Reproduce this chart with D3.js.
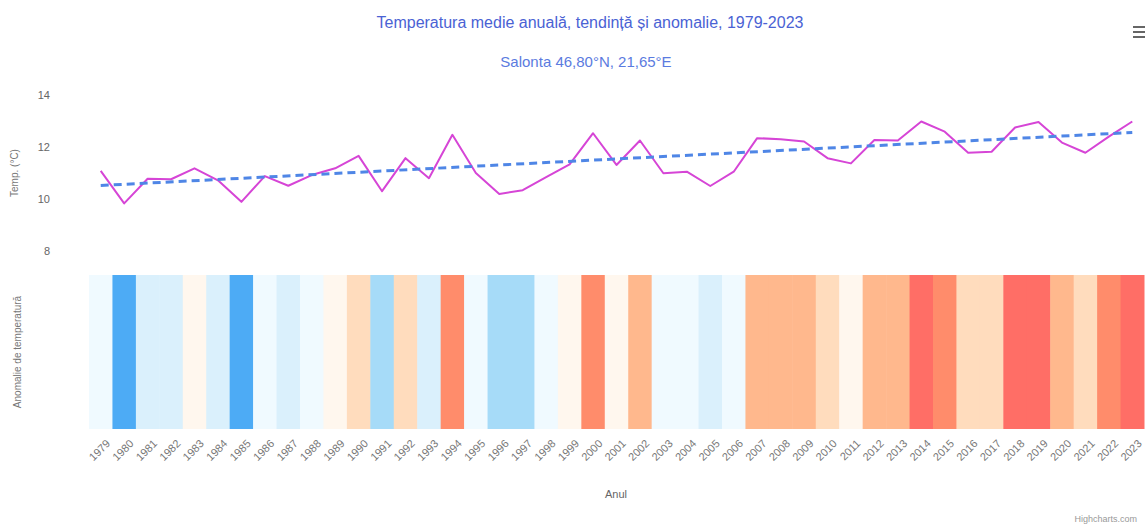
<!DOCTYPE html>
<html>
<head>
<meta charset="utf-8">
<script src="https://cdn.jsdelivr.net/npm/d3@7"></script>
<style>
  body { margin: 0; background: #fff; }
  svg { font-family: "Liberation Sans", Arial, sans-serif; }
</style>
</head>
<body>
<svg id="chart" width="1145" height="529"></svg>
<script>
// ani 1979-2023
const years = d3.range(1979, 2024);

// temperatura medie anuala (°C)
const temps = [
  11.08, 9.83, 10.78, 10.76, 11.18, 10.72, 9.89, 10.88, 10.51, 10.92,
  11.18, 11.66, 10.30, 11.57, 10.80, 12.47, 11.00, 10.19, 10.34, 10.84,
  11.33, 12.53, 11.31, 12.25, 10.99, 11.05, 10.50, 11.05, 12.34, 12.30,
  12.21, 11.57, 11.37, 12.27, 12.25, 12.98, 12.59, 11.78, 11.82, 12.75,
  12.96, 12.17, 11.78, 12.40, 12.98
];

// tendinta liniara (capete)
const trendYears = [1979, 2023];
const trendVals = [10.52, 12.56];

const yTicks = [8, 10, 12, 14];

const svg = d3.select("#chart");

const x = d3.scaleBand()
  .domain(years)
  .range([89, 1144])
  .paddingInner(0)
  .paddingOuter(0);

const y = d3.scaleLinear()
  .domain([8, 14])
  .range([251, 95]);

// culori anomalie
const stripeColor = d3.scaleThreshold()
  .domain([10.0, 10.4, 10.81, 11.12, 11.45, 12.0, 12.37, 12.7])
  .range(["#4dabf5", "#a6dbf8", "#daf0fc", "#f0faff", "#fff7ee",
          "#ffdcbd", "#ffb88d", "#ff8c6b", "#ff6e66"]);

// titlu
svg.append("text")
  .attr("x", 590).attr("y", 28)
  .attr("text-anchor", "middle")
  .attr("font-size", 16)
  .attr("fill", "#4a62d4")
  .text("Temperatura medie anuală, tendință și anomalie, 1979-2023");

svg.append("text")
  .attr("x", 586).attr("y", 67)
  .attr("text-anchor", "middle")
  .attr("font-size", 15)
  .attr("fill", "#5b7be0")
  .text("Salonta 46,80°N, 21,65°E");

// meniu
const menu = svg.append("g").attr("stroke", "#666").attr("stroke-width", 2);
[27, 32, 37].forEach(v => {
  menu.append("line").attr("x1", 1133).attr("x2", 1145).attr("y1", v).attr("y2", v);
});

// benzi anomalie
svg.append("g")
  .selectAll("rect")
  .data(years)
  .enter().append("rect")
  .attr("x", d => x(d))
  .attr("y", 275)
  .attr("width", x.bandwidth() + 0.5)
  .attr("height", 154)
  .attr("fill", (d, i) => stripeColor(temps[i]));

// axa y temperatura
const yAxis = svg.append("g")
  .attr("transform", "translate(89,0)")
  .call(d3.axisLeft(y).tickValues(yTicks).tickFormat(d3.format("d")).tickSize(0).tickPadding(39));
yAxis.select(".domain").remove();
yAxis.selectAll("text").attr("font-size", 11).attr("fill", "#666");

svg.append("text")
  .attr("transform", "translate(18,173) rotate(-90)")
  .attr("text-anchor", "middle")
  .attr("font-size", 10)
  .attr("fill", "#777")
  .text("Temp. (°C)");

svg.append("text")
  .attr("transform", "translate(21,352) rotate(-90)")
  .attr("text-anchor", "middle")
  .attr("font-size", 10)
  .attr("fill", "#777")
  .text("Anomalie de temperatură");

// axa x
const xAxis = svg.append("g")
  .attr("transform", "translate(0,431)")
  .call(d3.axisBottom(x).tickSize(0).tickPadding(10));
xAxis.select(".domain").remove();
xAxis.selectAll("text")
  .attr("font-size", 11)
  .attr("fill", "#777")
  .attr("text-anchor", "end")
  .attr("dx", "-0.2em")
  .attr("dy", "0.6em")
  .attr("transform", "rotate(-45)");

svg.append("text")
  .attr("x", 616).attr("y", 498)
  .attr("text-anchor", "middle")
  .attr("font-size", 11)
  .attr("fill", "#666")
  .text("Anul");

// linie temperatura
const line = d3.line()
  .x((d, i) => x(years[i]) + x.bandwidth() / 2)
  .y(d => y(d));

svg.append("path")
  .datum(temps)
  .attr("fill", "none")
  .attr("stroke", "#d645d6")
  .attr("stroke-width", 2)
  .attr("stroke-linejoin", "round")
  .attr("d", line);

// tendinta
svg.append("path")
  .datum(trendVals)
  .attr("fill", "none")
  .attr("stroke", "#4f86e6")
  .attr("stroke-width", 3)
  .attr("stroke-dasharray", "8,5")
  .attr("d", d3.line()
    .x((d, i) => x(trendYears[i]) + x.bandwidth() / 2)
    .y(d => y(d)));

// credit
svg.append("text")
  .attr("x", 1137).attr("y", 522)
  .attr("text-anchor", "end")
  .attr("font-size", 9)
  .attr("fill", "#999")
  .text("Highcharts.com");
</script>
</body>
</html>
